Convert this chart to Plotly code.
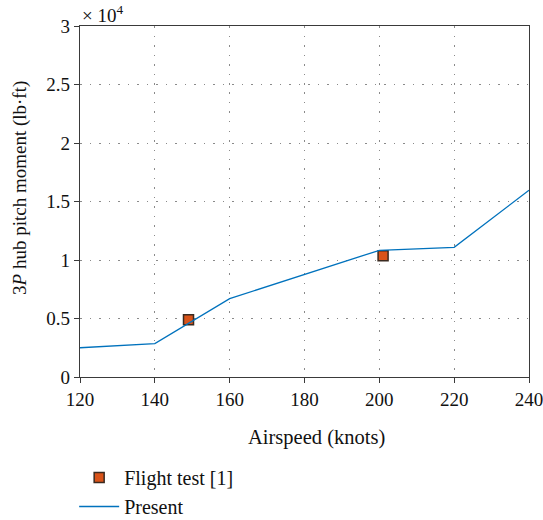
import numpy as np
import plotly.graph_objects as go

# Airspeed (knots) and 3P hub pitch moment (lb·ft)
present_speed = [120, 140, 160, 200, 220, 240]
present_moment = [2500, 2850, 6700, 10830, 11080, 15960]

flight_speed = [149, 201]
flight_moment = [4900, 10370]

x_ticks = [120, 140, 160, 180, 200, 220, 240]
y_ticks = [0, 0.5, 1, 1.5, 2, 2.5, 3]
scale = 1e4

font_family = "'Liberation Serif', 'DejaVu Serif', serif"
text_color = "#111111"
fsize = 19

grid_style = dict(showgrid=True, gridcolor="#8a8a8a", gridwidth=1, griddash="1.5px,8px")
axis_style = dict(showline=True, linecolor="#3a3a3a", linewidth=1.3, mirror=True,
                  ticks="outside", ticklen=5, tickcolor="#3a3a3a", zeroline=False,
                  automargin=False, ticklabeloverflow="allow",
                  tickfont=dict(family=font_family, size=fsize, color=text_color))

fig = go.Figure()
fig.add_trace(go.Scatter(
    x=flight_speed, y=np.array(flight_moment) / scale, mode="markers",
    name="Flight test [1]",
    marker=dict(symbol="square", size=10, color="#D95319",
                line=dict(color="#3a2a20", width=1.5)),
))
fig.add_trace(go.Scatter(
    x=present_speed, y=np.array(present_moment) / scale, mode="lines",
    name="Present", line=dict(color="#0072BD", width=1.3),
))

fig.update_xaxes(range=[120, 240], tickvals=x_ticks, **grid_style, **axis_style)
fig.update_yaxes(range=[0, 3], tickvals=y_ticks, ticktext=[f"{v:g}" for v in y_ticks],
                 **grid_style, **axis_style)

# axis titles and the exponent label
title_font = dict(family=font_family, size=fsize, color=text_color)
fig.add_annotation(text="Airspeed (knots)", xref="paper", yref="paper",
                   x=(316.5 - 80) / 448.7, y=-60 / 351, xanchor="center", yanchor="middle",
                   showarrow=False, font=dict(title_font, size=20.5))
fig.add_annotation(text="3<i>P</i> hub pitch moment (lb·ft)", xref="paper", yref="paper",
                   x=-60 / 448.7, y=(377 - 188) / 351, xanchor="center", yanchor="middle",
                   textangle=-90, showarrow=False, font=title_font)
fig.add_annotation(text="× 10<sup>4</sup>", xref="paper", yref="paper", x=0, y=1,
                   xanchor="left", yanchor="bottom", showarrow=False, yshift=-2,
                   font=title_font)

fig.update_layout(
    width=543, height=520,
    margin=dict(l=80, r=14, t=26, b=143, autoexpand=False),
    plot_bgcolor="white", paper_bgcolor="white",
    font=dict(family=font_family, size=fsize, color=text_color),
    showlegend=True,
    legend=dict(x=-0.013, xref="paper", y=1 - 458 / 520, yref="container",
                xanchor="left", yanchor="top",
                font=dict(title_font, size=20), tracegroupgap=0, itemwidth=40,
                bgcolor="rgba(0,0,0,0)"),
)

fig.write_html("out.html")
